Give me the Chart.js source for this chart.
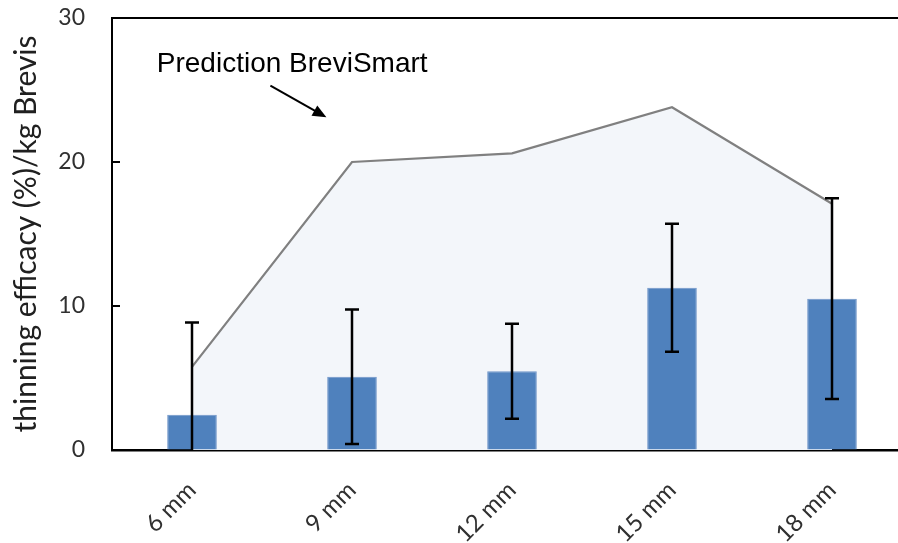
<!DOCTYPE html>
<html>
<head>
<meta charset="utf-8">
<script src="https://cdn.jsdelivr.net/npm/chart.js@4/dist/chart.umd.min.js"></script>
<style>
  html, body { margin: 0; padding: 0; background: #fff; overflow: hidden; }
  #wrap { width: 898px; height: 543px; overflow: hidden; position: relative; }
  #box { width: 914px; height: 543px; }
</style>
</head>
<body>
<div id="wrap"><div id="box"><canvas id="c"></canvas></div></div>
<script>
// データ
const categories = ['6 mm', '9 mm', '12 mm', '15 mm', '18 mm'];
const measured = [2.45, 5.08, 5.47, 11.27, 10.51];     // 実測値（棒）
const measuredErr = [6.4, 4.67, 3.3, 4.45, 6.97];      // 誤差範囲 (±)
const prediction = [5.77, 20.0, 20.6, 23.8, 17.1];    // BreviSmart予測
const yTicks = [0, 10, 20, 30];

// 注釈の位置（データ座標：カテゴリ番号, 値）
const noteText = 'Prediction BreviSmart';
const notePos = [-0.22, 26.8];
const arrowFrom = [0.49, 25.3];
const arrowTo = [0.84, 23.1];

// 誤差棒・枠・注釈を描くプラグイン
const extrasPlugin = {
  id: 'extras',
  afterDatasetsDraw(chart) {
    const ctx = chart.ctx;
    const x = chart.scales.x;
    const y = chart.scales.y;
    const area = chart.chartArea;
    const meta = chart.getDatasetMeta(0);

    // 誤差棒
    ctx.save();
    ctx.beginPath();
    ctx.rect(area.left, area.top, area.right - area.left, area.bottom - area.top);
    ctx.clip();
    ctx.strokeStyle = '#000';
    ctx.lineWidth = 2.5;
    meta.data.forEach((bar, i) => {
      const cx = bar.x;
      const hi = y.getPixelForValue(measured[i] + measuredErr[i]);
      const lo = y.getPixelForValue(measured[i] - measuredErr[i]);
      ctx.beginPath();
      ctx.moveTo(cx, hi); ctx.lineTo(cx, lo);
      ctx.moveTo(cx - 7, hi); ctx.lineTo(cx + 7, hi);
      ctx.moveTo(cx - 7, lo); ctx.lineTo(cx + 7, lo);
      ctx.stroke();
    });
    ctx.restore();

    // 上側の枠線と内向きの目盛り
    ctx.save();
    ctx.strokeStyle = '#000';
    ctx.lineWidth = 2;
    ctx.beginPath();
    ctx.moveTo(area.left - 1, area.top);
    ctx.lineTo(area.right, area.top);
    yTicks.forEach(v => {
      const py = y.getPixelForValue(v);
      ctx.moveTo(area.left, py);
      ctx.lineTo(area.left + 8, py);
    });
    ctx.stroke();
    ctx.restore();

    // 注釈テキストと矢印
    ctx.save();
    ctx.fillStyle = '#000';
    ctx.font = '28px "Liberation Sans", Arial, sans-serif';
    ctx.textBaseline = 'middle';
    ctx.textAlign = 'left';
    ctx.fillText(noteText, x.getPixelForValue(notePos[0]), y.getPixelForValue(notePos[1]));

    const x1 = x.getPixelForValue(arrowFrom[0]), y1 = y.getPixelForValue(arrowFrom[1]);
    const x2 = x.getPixelForValue(arrowTo[0]), y2 = y.getPixelForValue(arrowTo[1]);
    const ang = Math.atan2(y2 - y1, x2 - x1);
    const head = 15;
    ctx.strokeStyle = '#000';
    ctx.lineWidth = 2;
    ctx.beginPath();
    ctx.moveTo(x1, y1);
    ctx.lineTo(x2 - head * 0.8 * Math.cos(ang), y2 - head * 0.8 * Math.sin(ang));
    ctx.stroke();
    ctx.beginPath();
    ctx.moveTo(x2, y2);
    ctx.lineTo(x2 - head * Math.cos(ang - 0.4), y2 - head * Math.sin(ang - 0.4));
    ctx.lineTo(x2 - head * Math.cos(ang + 0.4), y2 - head * Math.sin(ang + 0.4));
    ctx.closePath();
    ctx.fill();
    ctx.restore();
  }
};

const fontFamily = 'Lato, "Open Sans", sans-serif';

new Chart(document.getElementById('c'), {
  data: {
    labels: categories,
    datasets: [
      {
        type: 'bar',
        label: 'measured',
        data: measured,
        backgroundColor: '#4F81BD',
        borderColor: '#6F95C8',
        borderWidth: 1,
        categoryPercentage: 1,
        barPercentage: 0.31,
        order: 0
      },
      {
        type: 'line',
        label: 'Prediction BreviSmart',
        data: prediction,
        borderColor: '#808080',
        borderWidth: 2.2,
        backgroundColor: '#F3F6FA',
        fill: 'origin',
        pointRadius: 0,
        tension: 0,
        order: 1
      }
    ]
  },
  options: {
    responsive: true,
    maintainAspectRatio: false,
    animation: false,
    layout: { padding: { top: 18, right: 2, left: 0, bottom: 0 } },
    plugins: {
      legend: { display: false },
      tooltip: { enabled: false }
    },
    scales: {
      x: {
        offset: true,
        grid: { display: true, drawOnChartArea: false, drawTicks: false },
        border: { display: true, color: '#000', width: 2.5 },
        ticks: {
          color: '#303030',
          font: { family: fontFamily, size: 24 },
          maxRotation: 45,
          minRotation: 45,
          padding: 26
        },
        afterFit(s) {
          s.height = 93;
          s.paddingLeft = 0;
          s.paddingRight = 0;
        }
      },
      y: {
        min: 0,
        max: 30,
        afterBuildTicks(s) { s.ticks = yTicks.map(v => ({ value: v })); },
        grid: { display: true, drawOnChartArea: false, drawTicks: false },
        border: { display: true, color: '#000', width: 2 },
        ticks: {
          color: '#303030',
          font: { family: fontFamily, size: 23 },
          padding: 27
        },
        title: {
          display: true,
          text: 'thinning efficacy (%)/kg Brevis',
          color: '#202020',
          font: { family: fontFamily, size: 30 },
          padding: { top: 8, bottom: 0 }
        },
        afterFit(s) {
          s.width = 112;
          s.paddingTop = 0;
          s.paddingBottom = 0;
        }
      }
    }
  },
  plugins: [extrasPlugin]
});
</script>
</body>
</html>
